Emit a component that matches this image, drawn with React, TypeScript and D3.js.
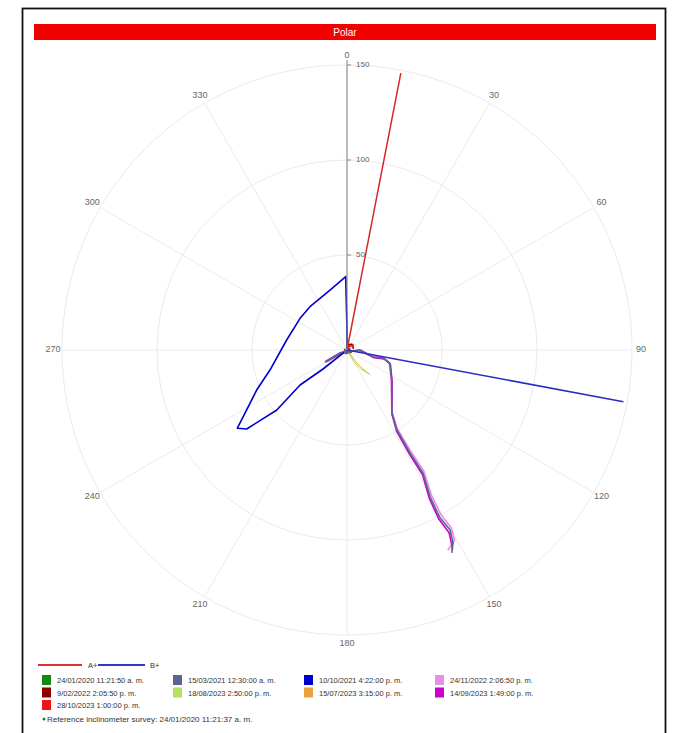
import React from "react";
import * as d3 from "d3";

// polar inclinometer plot: each series is a list of [angleDeg, displacement]
const angleTicks = [0, 30, 60, 90, 120, 150, 180, 210, 240, 270, 300, 330];
const radialTicks = [50, 100, 150];

const axisAPlus: [number, number][] = [[0, 0], [11, 148.5]];
const axisBPlus: [number, number][] = [[0, 0], [100.6, 148]];

const surveyNames = [
  "24/01/2020 11:21:50 a. m.",
  "15/03/2021 12:30:00 a. m.",
  "10/10/2021 4:22:00 p. m.",
  "24/11/2022 2:06:50 p. m.",
  "9/02/2022 2:05:50 p. m.",
  "18/08/2023 2:50:00 p. m.",
  "15/07/2023 3:15:00 p. m.",
  "14/09/2023 1:49:00 p. m.",
  "28/10/2023 1:00:00 p. m.",
];
const surveyColors = [
  "#138a13", "#5a6690", "#0000cc", "#e88ee8", "#8b0000",
  "#b5e061", "#e8a33a", "#cc00cc", "#f01414",
];

const survey1: [number, number][] = [[0, 0], [60, 1.5], [120, 2.5], [200, 2], [300, 1.5]];
const survey2: [number, number][] = [
  [0, 0], [241, 13], [245, 4], [90, 6.8], [105, 14.2], [102.5, 19.4], [107, 23.6], [124, 28.3],
  [144.5, 40.6], [148, 49.6], [148.5, 63.5], [148.3, 76.1], [150.5, 88.8], [151, 100.6],
  [150.2, 109.2], [151.2, 115.9], [152.7, 120.2],
];
const survey3: [number, number][] = [
  [0, 1], [0, 10], [359, 38.6], [344.2, 32.8], [319.5, 30], [304, 29.8], [279.4, 32.2],
  [255.4, 41.9], [246.1, 52], [237.3, 64.9], [234.5, 70.9], [231.8, 67.2], [229.5, 48.6],
  [233.3, 30.8], [231.6, 16.1], [230, 2],
];
const survey4: [number, number][] = [
  [0, 0], [239, 12], [243, 3], [88, 6.5], [104, 13.8], [101.5, 19], [106, 23], [123, 27.8],
  [143.8, 40], [147.4, 49], [147.8, 63], [147.6, 75.5], [149.8, 88.2], [150.3, 100],
  [149.6, 108.6], [150.5, 115], [153.3, 118],
];
const survey5: [number, number][] = [[0, 0], [20, 3], [40, 4], [80, 3.5]];
const survey6: [number, number][] = [[0, 0], [150, 7], [145, 12], [138, 16.5]];
const survey7: [number, number][] = [[0, 0], [143, 8.5], [140, 13], [137, 17.9]];
const survey8: [number, number][] = [
  [0, 0], [242, 12.5], [248, 3.5], [92, 7], [106, 14.8], [103.5, 20], [108, 24], [125, 29],
  [145, 41.2], [148.6, 50.2], [149, 64], [148.8, 76.8], [151, 89.5], [151.5, 101.2],
  [150.8, 110], [151.8, 117], [152.2, 119],
];
const survey9: [number, number][] = [[0, 0], [30, 2], [50, 4.2], [70, 3]];

const surveys = [survey1, survey2, survey3, survey4, survey5, survey6, survey7, survey8, survey9];
// drawing order so the long trace looks like the reference
const drawOrder = [0, 4, 8, 6, 5, 3, 7, 1, 2];
const thin = new Set([5, 6]);

const referenceText = "Reference inclinometer survey: 24/01/2020 11:21:37 a. m.";

const W = 676;
const H = 733;
const cx = 347;
const cy = 350;
const R = 285;
const font = "'Liberation Sans', Arial, sans-serif";

export default function App() {
  const r = d3.scaleLinear().domain([0, 150]).range([0, R]);
  const line = d3
    .lineRadial<[number, number]>()
    .angle((d) => (d[0] * Math.PI) / 180)
    .radius((d) => r(d[1]));

  const pt = (deg: number, rad: number) => {
    const a = (deg * Math.PI) / 180;
    return [cx + rad * Math.sin(a), cy - rad * Math.cos(a)];
  };

  const legendCols = [42, 173, 304, 435];
  const legendRows = [675, 687.5, 700];

  return (
    <svg
      width={W}
      height={H}
      style={{ position: "absolute", left: 0, top: 0, background: "#fff" }}
      fontFamily={font}
    >
      <rect x={22.5} y={8.5} width={643} height={740} fill="#fff" stroke="#111" strokeWidth={1.8} />
      <rect x={34} y={24} width={622} height={16} fill="#f20000" />
      <text x={345} y={36} fill="#fff" fontSize={10} textAnchor="middle">
        Polar
      </text>

      <g>
        {radialTicks.map((t) => (
          <circle key={t} cx={cx} cy={cy} r={r(t)} fill="none" stroke="#ebebeb" strokeWidth={1} />
        ))}
        {angleTicks.map((a) => {
          const [x2, y2] = pt(a, R);
          return <line key={a} x1={cx} y1={cy} x2={x2} y2={y2} stroke="#ebebeb" strokeWidth={1} />;
        })}
        {angleTicks.map((a) => {
          const [x, y] = pt(a, 294);
          return (
            <text key={"l" + a} x={x} y={y} fontSize={9} fill="#666" textAnchor="middle" dominantBaseline="middle">
              {a}
            </text>
          );
        })}
      </g>

      <g transform={`translate(${cx},${cy})`}>
        {drawOrder.map((i) => (
          <path
            key={i}
            d={line(surveys[i]) || ""}
            fill="none"
            stroke={surveyColors[i]}
            strokeWidth={thin.has(i) ? 1 : 1.6}
            strokeLinejoin="round"
          />
        ))}
        <path d={line(axisAPlus) || ""} fill="none" stroke="#d42828" strokeWidth={1.5} />
        <path d={line(axisBPlus) || ""} fill="none" stroke="#2b2bc8" strokeWidth={1.5} />
      </g>

      <g>
        <line x1={cx} y1={cy} x2={cx} y2={cy - 290} stroke="#808080" strokeWidth={1} />
        {radialTicks.map((t) => (
          <g key={t}>
            <line x1={cx} y1={cy - r(t)} x2={cx + 4} y2={cy - r(t)} stroke="#888" />
            <text x={cx + 9} y={cy - r(t)} fontSize={8} fill="#666" dominantBaseline="middle">
              {t}
            </text>
          </g>
        ))}
      </g>

      <g fontSize={7.5} fill="#333">
        <line x1={38} y1={665} x2={82} y2={665} stroke="#e03030" strokeWidth={2} />
        <text x={88} y={668}>A+</text>
        <line x1={98} y1={665} x2={145} y2={665} stroke="#3535d0" strokeWidth={2} />
        <text x={150} y={668}>B+</text>
        {surveyNames.map((name, i) => {
          const col = i % 4;
          const row = Math.floor(i / 4);
          const x = legendCols[col];
          const y = legendRows[row];
          return (
            <g key={name}>
              <rect x={x} y={y} width={9} height={10} fill={surveyColors[i]} />
              <text x={x + 15} y={y + 8}>
                {name}
              </text>
            </g>
          );
        })}
        <circle cx={44} cy={719} r={1.5} fill="#138a13" />
        <text x={47} y={722} fontSize={8}>
          {referenceText}
        </text>
      </g>
    </svg>
  );
}
